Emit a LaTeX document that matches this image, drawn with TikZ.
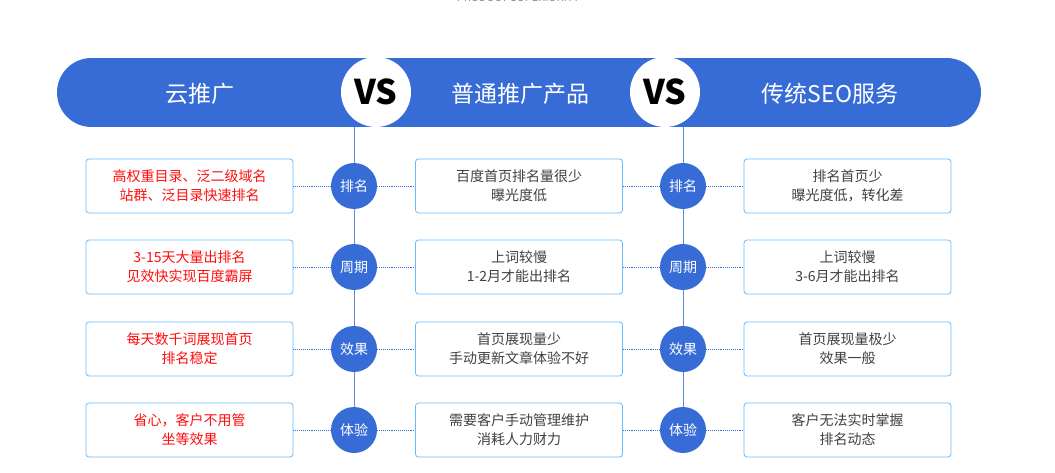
\documentclass[tikz,border=0pt]{standalone}
\usepackage{fontspec}
\setmainfont{Noto Sans CJK SC}
\begin{document}
\begin{tikzpicture}[x=1pt,y=-1pt,
  box/.style={draw=blue!45!cyan!60!white,line width=0.8pt,rounded corners=3pt,minimum width=207pt,minimum height=54pt,align=center,font=\fontsize{14}{19}\selectfont,text=black!75},
  redbox/.style={box,text=red!95},
  dot/.style={circle,fill=bblue,minimum size=46pt,inner sep=0pt,text=white,font=\fontsize{14}{16}\selectfont},
  vs/.style={circle,fill=white,minimum size=70pt,inner sep=0pt,font=\fontsize{34}{34}\selectfont\bfseries\itshape},
  conn/.style={bblue,densely dotted,line width=0.9pt},
  vline/.style={bblue!80,line width=0.9pt},
  head/.style={text=white,font=\fontsize{23}{26}\selectfont}]
\definecolor{bblue}{RGB}{55,108,214}
\useasboundingbox (0,0) rectangle (1055,473);
\node[text=black!45,font=\fontsize{11}{12}\selectfont] (title) at (518,-3) {PRODUCT SUPERIORITY};
\fill[bblue] (91.5,58) rectangle (946.5,127);
\fill[bblue] (91.5,92.5) circle (34.5);
\fill[bblue] (946.5,92.5) circle (34.5);
\node[head] (h1) at (200,94) {云推广};
\node[head] (h2) at (520,94) {普通推广产品};
\node[head] (h3) at (830,94) {传统SEO服务};
\coordinate (t1) at (354,127);
\coordinate (t2) at (683,127);
\foreach \y/\k/\a/\b/\c in {
 186/排名/{高权重目录、泛二级域名\\站群、泛目录快速排名}/{百度首页排名量很少\\曝光度低}/{排名首页少\\曝光度低，转化差},
 267/周期/{3-15天大量出排名\\见效快实现百度霸屏}/{上词较慢\\1-2月才能出排名}/{上词较慢\\3-6月才能出排名},
 349/效果/{每天数千词展现首页\\排名稳定}/{首页展现量少\\手动更新文章体验不好}/{首页展现量极少\\效果一般},
 430/体验/{省心，客户不用管\\坐等效果}/{需要客户手动管理维护\\消耗人力财力}/{客户无法实时掌握\\排名动态}}{
  \node[redbox] (a\y) at (189.5,\y) {\a};
  \node[box] (b\y) at (519,\y) {\b};
  \node[box] (c\y) at (847.5,\y) {\c};
  \node[dot] (d\y) at (354,\y) {\k};
  \node[dot] (e\y) at (683,\y) {\k};
  \draw[conn] (a\y) -- (d\y);
  \draw[conn] (d\y) -- (b\y);
  \draw[conn] (b\y) -- (e\y);
  \draw[conn] (e\y) -- (c\y);
}
\draw[vline] (t1) -- (d186) (d186) -- (d267) (d267) -- (d349) (d349) -- (d430);
\draw[vline] (t2) -- (e186) (e186) -- (e267) (e267) -- (e349) (e349) -- (e430);
\node[vs] (vs1) at (376,92) {VS};
\node[vs] (vs2) at (665,92) {VS};
\end{tikzpicture}
\end{document}
